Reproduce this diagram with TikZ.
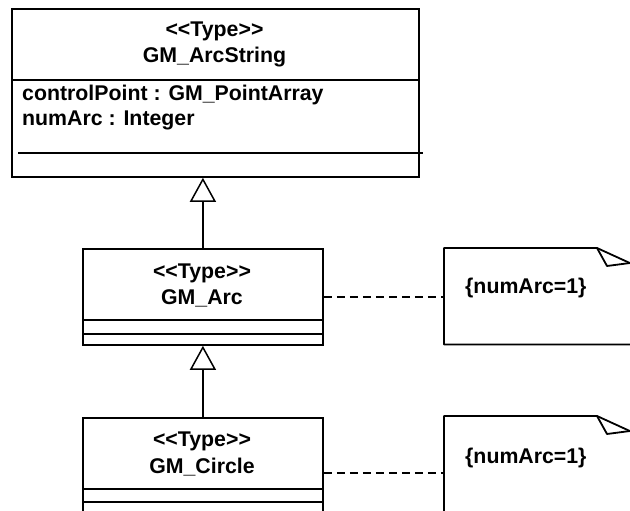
\documentclass[tikz,border=0pt]{standalone}
\usepackage{fontspec}
\newfontfamily\umlfont{Liberation Sans}
\usetikzlibrary{arrows.meta}
\begin{document}
\begin{tikzpicture}[x=1pt,y=-1pt,
  box/.style={draw, line width=1.8pt, inner sep=0pt, anchor=north west},
  lbl/.style={font=\umlfont\bfseries\fontsize{21.3}{25}\selectfont, inner sep=0pt, anchor=base},
  attr/.style={lbl, anchor=base west},
  sep/.style={line width=1.8pt},
  gen/.style={line width=1.5pt, -{Triangle[open,fill=white,length=24pt,width=26pt]}},
  dep/.style={line width=1.6pt, dash pattern=on 8pt off 5pt},
  notebox/.style={inner sep=0pt, anchor=north west, minimum width=200pt},
  noteline/.style={line width=1.8pt, line join=round}]
\useasboundingbox (0,0) rectangle (630,511);
\clip (0,0) rectangle (630,511);

% GM_ArcString
\node[box, minimum width=407pt, minimum height=168pt] (arcstring) at (11,8) {};
\draw[sep] (11,80) -- (418,80);
\draw[sep] (18,153) -- (423,153);
\node[lbl] (as1) at (214.5,37) {<<Type>>};
\node[lbl] (as2) at (214.5,63) {GM\_ArcString};
\node[attr] (as3) at (22,101) {controlPoint : GM\_PointArray};
\node[attr] (as4) at (22,125) {numArc : Integer};

% GM_Arc
\node[box, minimum width=240pt, minimum height=96pt] (arc) at (82,248) {};
\draw[sep] (82,320) -- (322,320);
\draw[sep] (82,334) -- (322,334);
\node[lbl] (a1) at (202,278) {<<Type>>};
\node[lbl] (a2) at (202,304) {GM\_Arc};

% GM_Circle
\node[box, minimum width=240pt, minimum height=110pt] (circle) at (82,417) {};
\draw[sep] (82,489) -- (322,489);
\draw[sep] (82,502) -- (322,502);
\node[lbl] (c1) at (202,446) {<<Type>>};
\node[lbl] (c2) at (202,473) {GM\_Circle};

% generalizations
\draw[gen] (arc.north) -- (arc.north |- arcstring.south);
\draw[gen] (circle.north) -- (circle.north |- arc.south);

% notes
\node[notebox, minimum height=96pt] (n1) at (444,248) {};
\node[attr] (n1t) at (465,293) {\{numArc=1\}};
\draw[noteline] (n1.south east) -- (n1.south west) -- (n1.north west) -- ([xshift=153pt]n1.north west) coordinate (f1) -- ++(35,16);
\draw[noteline] (f1) -- ++(10,18) -- ++(23,-3);

\node[notebox, minimum height=120pt] (n2) at (444,416) {};
\node[attr] (n2t) at (465,463) {\{numArc=1\}};
\draw[noteline] (n2.south east) -- (n2.south west) -- (n2.north west) -- ([xshift=153pt]n2.north west) coordinate (f2) -- ++(35,16);
\draw[noteline] (f2) -- ++(10,18) -- ++(23,-3);

% dependencies
\draw[dep] (arc.east) -- (arc.east -| n1.west);
\draw[dep] (circle.east) -- (circle.east -| n2.west);
\end{tikzpicture}
\end{document}
